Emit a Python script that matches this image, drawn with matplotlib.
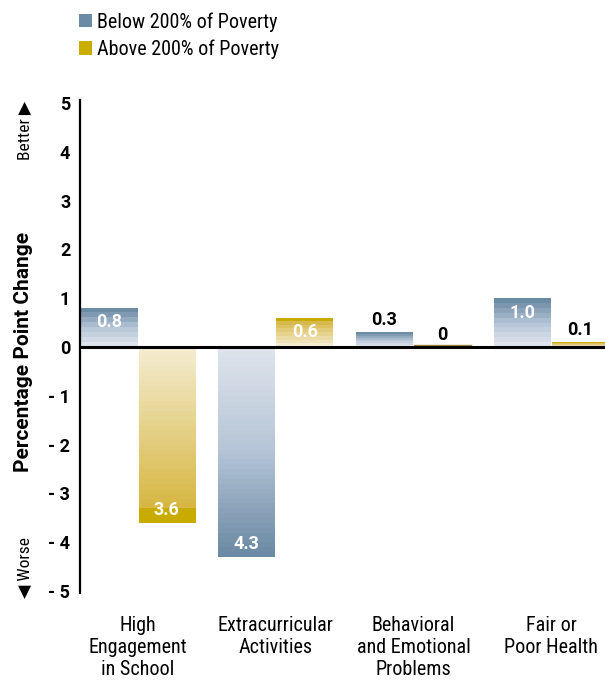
import numpy as np
import matplotlib
matplotlib.use("Agg")
import matplotlib.pyplot as plt
from matplotlib import font_manager as fm
from matplotlib.colors import LinearSegmentedColormap
from matplotlib.patches import Patch

# ---- data ---------------------------------------------------------------
categories = ["High\nEngagement\nin School", "Extracurricular\nActivities",
              "Behavioral\nand Emotional\nProblems", "Fair or\nPoor Health"]
series_names = ["Below 200% of Poverty", "Above 200% of Poverty"]
below_200 = [0.8, -4.3, 0.3, 1.0]
above_200 = [-3.6, 0.6, 0.0, 0.1]
yticks = [-5, -4, -3, -2, -1, 0, 1, 2, 3, 4, 5]
ytick_labels = ["- 5", "- 4", "- 3", "- 2", "- 1", "0", "1", "2", "3", "4", "5"]
y_title = "Percentage Point Change"
better_text = "Better \u25B6"
worse_text = "\u25C0 Worse"

# ---- fonts --------------------------------------------------------------
_names = {f.name for f in fm.fontManager.ttflist}


def pick(*cands):
    for c in cands:
        if c in _names:
            return c
    return "DejaVu Sans"


NARROW = pick("Liberation Sans Narrow", "Roboto Condensed", "DejaVu Sans")
NUM = pick("Roboto", "Liberation Sans", "DejaVu Sans")

# ---- colours ------------------------------------------------------------
blue_key = "#6a8aa6"
gold_key = "#c9ad00"
blue_cmap = LinearSegmentedColormap.from_list(
    "blue_fade", [(0.0, "#dfe4ec"), (0.5, "#b4c4d6"), (1.0, "#6b8aa4")])
gold_cmap = LinearSegmentedColormap.from_list(
    "gold_fade", [(0.0, "#f5ecd0"), (0.94, "#d6b640"), (0.945, "#c9ab00"), (1.0, "#c9ab00")])

# ---- figure -------------------------------------------------------------
fig = plt.figure(figsize=(6.05, 6.80), dpi=100)
ax = fig.add_axes([0.1322, 0.1274, 0.8678, 0.7255])
ax.set_xlim(-0.42, 3.39)
ax.set_ylim(-5.05, 5.06)

x = np.arange(len(categories))
width = 0.41
offset = 0.21


def gradient_bar(xc, v, cmap):
    bar = ax.bar(xc, v, width=width, color="none", linewidth=0)[0]
    if v == 0:
        ax.plot([xc - width / 2, xc + width / 2], [0.03, 0.03],
                color="#a08a40", lw=1.0, zorder=2)
        return
    n = max(8, int(round(abs(v) / 0.1)))
    g = np.linspace(0, 1, n).reshape(-1, 1)
    if v < 0:
        g = g[::-1]
        extent = (xc - width / 2, xc + width / 2, v, 0)
    else:
        extent = (xc - width / 2, xc + width / 2, 0, v)
    im = ax.imshow(g, cmap=cmap, vmin=0, vmax=1, origin="lower", extent=extent,
                   aspect="auto", interpolation="nearest", zorder=1)
    im.set_clip_path(bar)


def value_label(xc, v):
    txt = "0" if v == 0 else f"{abs(v):.1f}"
    if abs(v) >= 0.5:
        dy = -10.5 if v > 0 else 9
        ax.annotate(txt, (xc, v), xytext=(0, dy), textcoords="offset points",
                    ha="center", va="center", color="white", fontsize=13,
                    fontweight="bold", family=NUM, zorder=4)
    else:
        ax.annotate(txt, (xc, max(v, 0)), xytext=(0, 8.6), textcoords="offset points",
                    ha="center", va="center", color="black", fontsize=13,
                    fontweight="bold", family=NUM, zorder=4)


for i in range(len(categories)):
    gradient_bar(x[i] - offset, below_200[i], blue_cmap)
    gradient_bar(x[i] + offset, above_200[i], gold_cmap)
    value_label(x[i] - offset, below_200[i])
    value_label(x[i] + offset, above_200[i])

ax.axhline(0, color="black", lw=2.2, zorder=3)

# axes styling
for s in ["top", "right", "bottom"]:
    ax.spines[s].set_visible(False)
ax.spines["left"].set_linewidth(1.6)
ax.spines["left"].set_zorder(5)
ax.set_yticks(yticks)
ax.set_yticklabels(ytick_labels, fontsize=13, fontweight="bold", family=NUM)
ax.tick_params(axis="y", length=0, pad=7)
ax.set_xticks(x)
ax.set_xticklabels(categories, fontsize=14.5, family=NARROW, linespacing=1.22)
ax.tick_params(axis="x", length=0, pad=16)

fig.text(24 / 605, 1 - 352 / 680, y_title, rotation=90, ha="center", va="center",
         fontsize=15, fontweight="bold", family=NUM)
fig.text(25 / 605, 1 - 130 / 680, better_text, rotation=90, ha="center", va="center",
         fontsize=12.5, family=[NARROW, "DejaVu Sans"])
fig.text(25 / 605, 1 - 567 / 680, worse_text, rotation=90, ha="center", va="center",
         fontsize=12.5, family=[NARROW, "DejaVu Sans"])

handles = [Patch(facecolor=blue_key, edgecolor="none"),
           Patch(facecolor=gold_key, edgecolor="none")]
fig.legend(handles, series_names, loc="upper left", bbox_to_anchor=(73 / 605, 1 - 6 / 680),
           frameon=False, prop={"family": NARROW, "size": 14.5},
           handlelength=0.62, handleheight=0.62, handletextpad=0.28, labelspacing=0.4,
           borderaxespad=0, borderpad=0.3)

fig.savefig("out.png", dpi=100)
